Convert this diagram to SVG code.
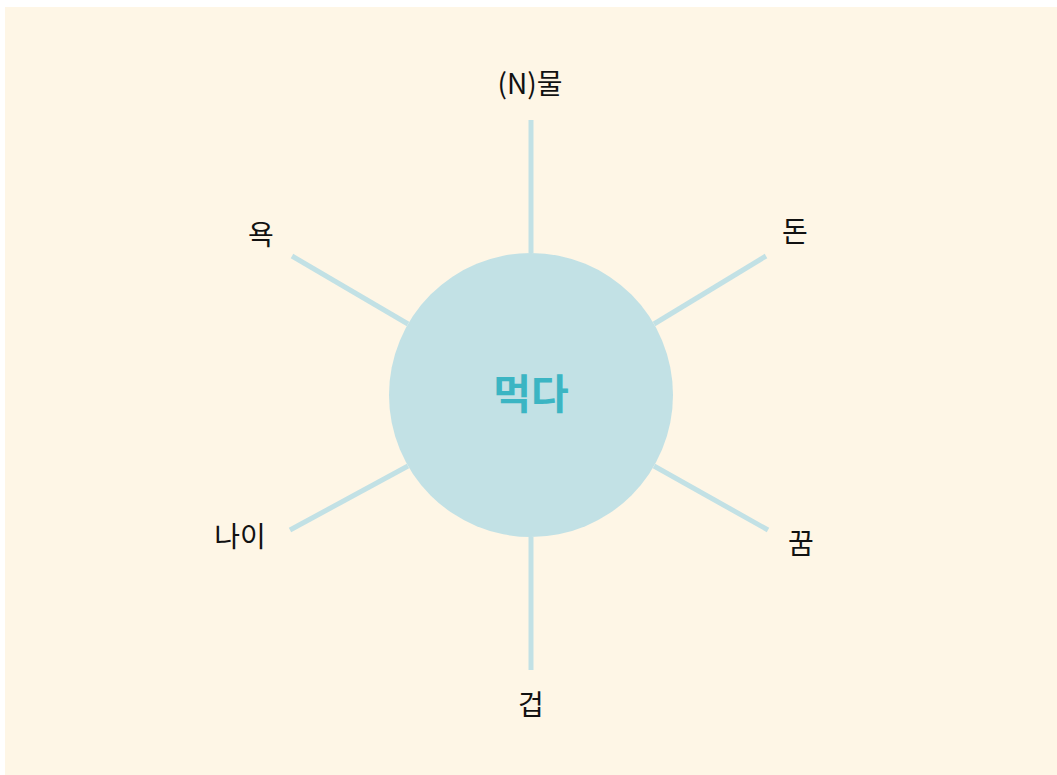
<svg xmlns="http://www.w3.org/2000/svg" width="1057" height="775" viewBox="0 0 1057 775">
<style>
.lbl{font-family:"Noto Sans CJK KR","Noto Sans",sans-serif;font-size:28px;fill:#111;text-anchor:middle}
.ctr{font-family:"Noto Sans CJK KR","Noto Sans",sans-serif;font-size:41px;font-weight:bold;fill:#3BB5C3;text-anchor:middle}
.conn line{stroke:#C2E1E5;stroke-width:5}
</style>
<rect width="1057" height="775" fill="#ffffff"/>
<rect x="5" y="7" width="1052" height="768" fill="#FEF6E6"/>
<g id="connectors" class="conn">
<line x1="531" y1="253" x2="531" y2="120"/>
<line x1="531" y1="537" x2="531" y2="670"/>
<line x1="408" y1="324" x2="292" y2="256"/>
<line x1="654" y1="324" x2="766" y2="256"/>
<line x1="408" y1="466" x2="290" y2="530"/>
<line x1="654" y1="466" x2="768" y2="530"/>
</g>
<g id="center">
<circle cx="531" cy="395" r="142" fill="#C2E1E5"/>
<text class="ctr" x="531" y="409">먹다</text>
</g>
<g id="n-mul"><text class="lbl" x="530" y="94">(N)물</text></g>
<g id="yok"><text class="lbl" x="261" y="245">욕</text></g>
<g id="don"><text class="lbl" x="795" y="242">돈</text></g>
<g id="nai"><text class="lbl" x="240" y="547">나이</text></g>
<g id="kkum"><text class="lbl" x="801" y="554">꿈</text></g>
<g id="geop"><text class="lbl" x="531" y="715">겁</text></g>
</svg>
